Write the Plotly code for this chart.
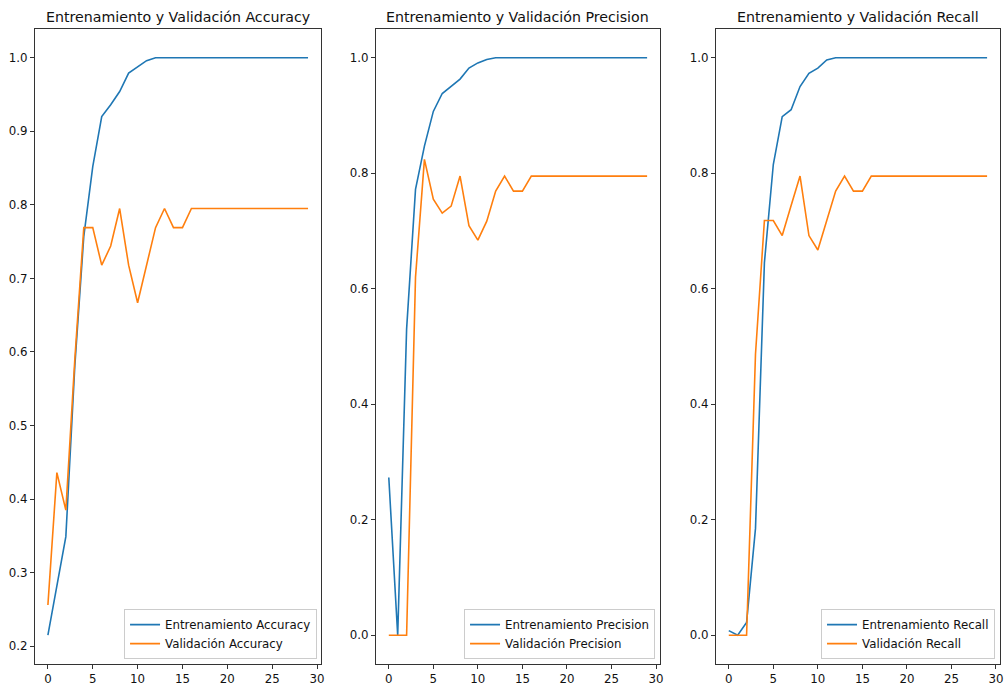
import plotly.graph_objects as go

epochs = list(range(30))

train_acc = [0.215, 0.283, 0.349, 0.581, 0.757, 0.852, 0.920, 0.936, 0.954, 0.979,
             0.987, 0.996] + [1.0] * 18
val_acc = [0.256, 0.436, 0.385, 0.590, 0.769, 0.769, 0.718, 0.744, 0.795, 0.718,
           0.667, 0.718, 0.769, 0.795, 0.769, 0.769] + [0.795] * 14

train_prec = [0.273, 0.0, 0.530, 0.772, 0.847, 0.907, 0.938, 0.950, 0.963, 0.982,
              0.991, 0.997] + [1.0] * 18
val_prec = [0.0, 0.0, 0.0, 0.620, 0.824, 0.755, 0.731, 0.743, 0.795, 0.709,
            0.684, 0.717, 0.769, 0.795, 0.769, 0.769] + [0.795] * 14

train_rec = [0.008, 0.0, 0.022, 0.185, 0.645, 0.815, 0.898, 0.910, 0.950, 0.973,
             0.982, 0.996] + [1.0] * 18
val_rec = [0.0, 0.0, 0.0, 0.487, 0.718, 0.718, 0.692, 0.744, 0.795, 0.692,
           0.667, 0.718, 0.769, 0.795, 0.769, 0.769] + [0.795] * 14

metrics = ["Accuracy", "Precision", "Recall"]
train_series = [train_acc, train_prec, train_rec]
val_series = [val_acc, val_prec, val_rec]

W, H = 1004, 686
panels_px = [(35, 322), (377, 662), (718, 1003)]
top_px, bottom_px = 29, 668
legend_right_px = [318, 657, 998]
legend_bottom_px = 663

BLUE = "#1f77b4"
ORANGE = "#ff7f0e"
FONT = "DejaVu Sans"
SPINE = "#333333"

fig = go.Figure()
layout = dict(
    width=W, height=H,
    margin=dict(l=0, r=0, t=0, b=0),
    paper_bgcolor="white", plot_bgcolor="white",
    font=dict(family=FONT, size=11.8, color="black"),
    annotations=[],
)

def pad_range(vals, frac=0.05):
    lo, hi = min(vals), max(vals)
    d = (hi - lo) * frac
    return [lo - d, hi + d]

for k, m in enumerate(metrics):
    n = "" if k == 0 else str(k + 1)
    xa, ya = "x" + n, "y" + n
    leg = "legend" + n
    fig.add_trace(go.Scatter(x=epochs, y=train_series[k], mode="lines",
                             name="Entrenamiento " + m,
                             line=dict(color=BLUE, width=1.6),
                             xaxis=xa, yaxis=ya, legend=leg))
    fig.add_trace(go.Scatter(x=epochs, y=val_series[k], mode="lines",
                             name="Validación " + m,
                             line=dict(color=ORANGE, width=1.6),
                             xaxis=xa, yaxis=ya, legend=leg))
    l, r = panels_px[k]
    yr = pad_range(train_series[k] + val_series[k])
    if k == 0:
        ytv = [0.2, 0.3, 0.4, 0.5, 0.6, 0.7, 0.8, 0.9, 1.0]
    else:
        ytv = [0.0, 0.2, 0.4, 0.6, 0.8, 1.0]
    axis_common = dict(showline=True, linecolor=SPINE, linewidth=1, mirror=True,
                       showgrid=False, zeroline=False, ticks="outside",
                       ticklen=4, tickwidth=1, tickcolor=SPINE,
                       tickfont=dict(family=FONT, size=11.8, color="#111111"))
    layout["xaxis" + n] = dict(domain=[l / W, r / W], anchor=ya,
                               range=[-1.45, 30.45],
                               tickvals=[0, 5, 10, 15, 20, 25, 30], **axis_common)
    layout["yaxis" + n] = dict(domain=[(H - bottom_px) / H, (H - top_px) / H], anchor=xa,
                               range=yr, tickvals=ytv, tickformat=".1f", **axis_common)
    layout[leg] = dict(x=legend_right_px[k] / W, y=(H - legend_bottom_px) / H,
                       xanchor="right", yanchor="bottom",
                       bgcolor="rgba(255,255,255,0.8)", bordercolor="#cccccc",
                       borderwidth=1, font=dict(family=FONT, size=11.8, color="#111111"),
                       tracegroupgap=0, itemwidth=30)
    layout["annotations"].append(dict(
        text="Entrenamiento y Validación " + m, xref="paper", yref="paper",
        x=(l + r) / 2 / W, y=(H - 17) / H, xanchor="center", yanchor="middle",
        showarrow=False, font=dict(family=FONT, size=14.2, color="#111111")))

fig.update_layout(**layout)
fig.write_html("out.html")
